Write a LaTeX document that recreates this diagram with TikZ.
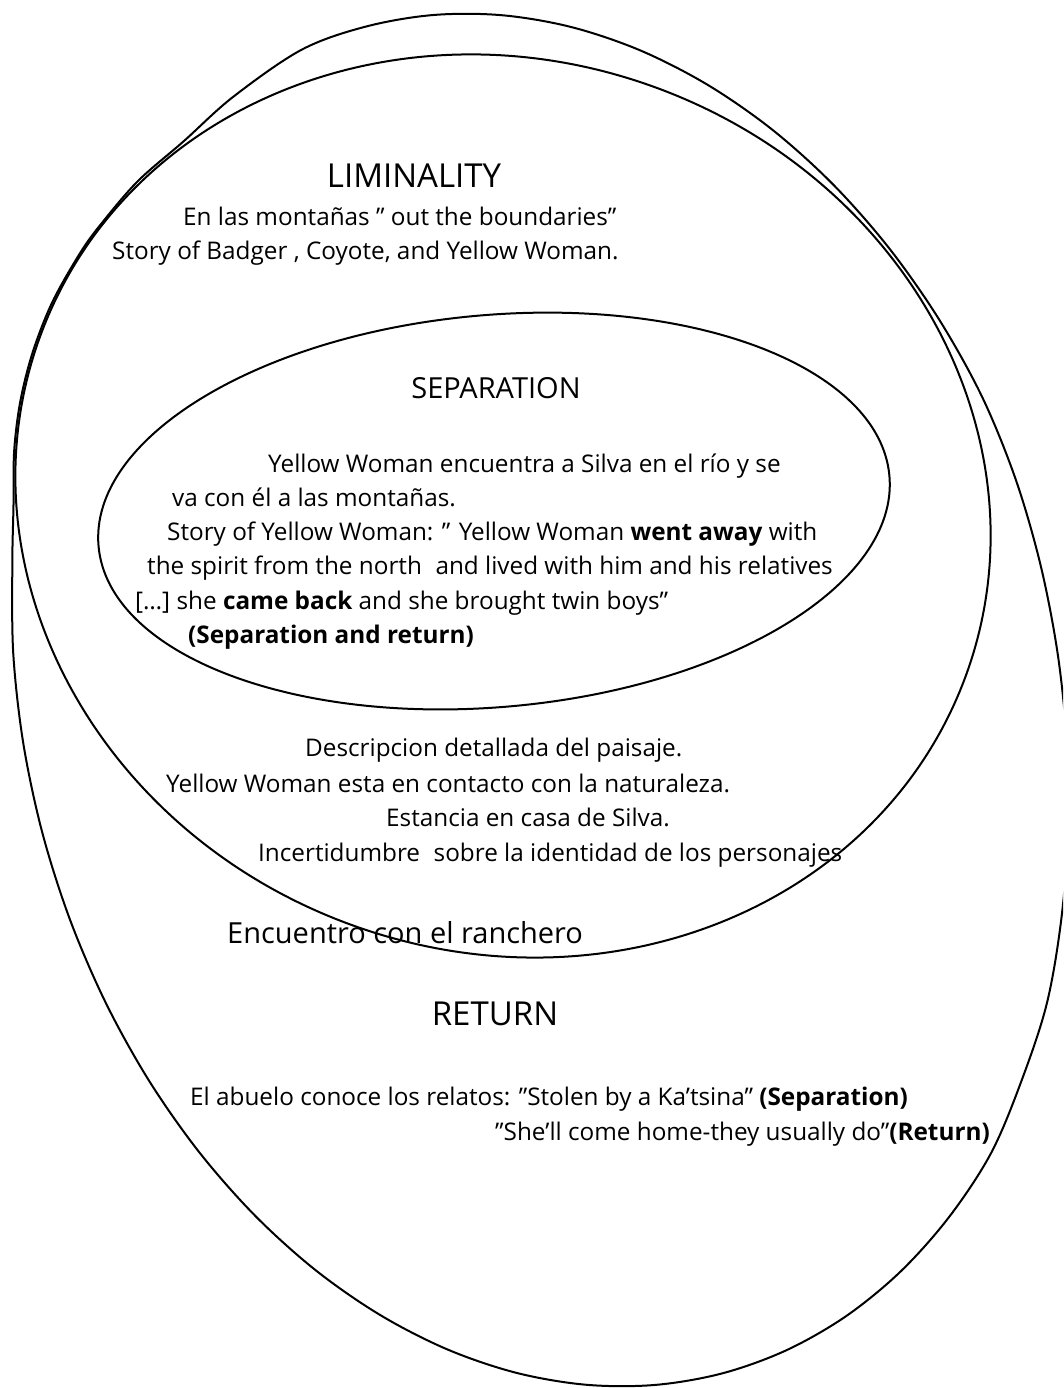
\documentclass[tikz,border=0pt]{standalone}
\usepackage{fontspec}
\setmainfont{Open Sans}
\begin{document}
\begin{tikzpicture}[x=1pt,y=1pt,
  ring/.style={draw=black, line width=2pt, line join=round},
  txt/.style={anchor=base west, inner sep=0pt, font=\fontsize{24.3}{28}\selectfont},
  head/.style={anchor=base, inner sep=0pt, font=\fontsize{33}{38}\selectfont},
  big/.style={anchor=base west, inner sep=0pt, font=\fontsize{29}{34}\selectfont}]
\useasboundingbox (0,0) rectangle (1063,1388);
\fill[white] (0,0) rectangle (1063,1388);
\clip (0,0) rectangle (1063,1388);
% centres of the two inner ellipses
\coordinate (cL) at (503,882);
\coordinate (cS) at (494,877);
% RETURN (outer outline)
\draw[ring] plot[smooth cycle, tension=0.55] coordinates {
  (233,1291) (301.5,1338.2) (365.5,1361.3) (432.5,1372.9) (501.4,1372.8)
  (571,1361) (640.2,1337.6) (707.7,1303.1) (772.4,1258.2) (833.2,1203.4)
  (889.1,1139.8) (939.1,1068.5) (982.3,990.7) (1016,907.7) (1041,821)
  (1058,732) (1067,642.2) (1068,553.2) (1061,466.5) (1046.6,383.6)
  (1021,305.9) (991,234.8) (949.4,171.4) (900.9,116.8) (846.3,72)
  (786.5,37.8) (722.5,14.7) (655.5,3.1) (586.6,3.2) (517,15)
  (447.8,38.4) (380.3,72.9) (315.6,117.8) (254.8,172.6) (198.9,236.2)
  (148.9,307.5) (105.7,385.3) (70,468.3) (42.4,555) (23.4,644)
  (13.3,733.8) (12.3,822.8) (13.5,883) (14.2,937.4) (20.4,987)
  (32.8,1036) (52.4,1086) (80.4,1135.4) (101.9,1165) (138,1207)
  (184,1247)};
% LIMINALITY
\draw[ring, rotate around={-20.3:(cL)}] (cL) ellipse [x radius=493, y radius=445.5];
% SEPARATION
\draw[ring, rotate around={5.1:(cS)}] (cS) ellipse [x radius=397, y radius=196];
% LIMINALITY texts
\node[head] (limT) at (414,1200) {LIMINALITY};
\node[txt] (lim1) at (183,1162) {En las montañas ” out the boundaries”};
\node[txt] (lim2) at (112,1128) {Story of Badger , Coyote, and Yellow Woman.};
% SEPARATION texts
\node[head, font=\fontsize{29}{34}\selectfont] (sepT) at (496,989) {SEPARATION};
\node[txt] (sep1) at (268,915) {Yellow Woman encuentra a Silva en el río y se};
\node[txt] (sep2) at (172,881) {va con él a las montañas.};
\node[txt] (sep3) at (167,847) {Story of Yellow Woman: ” Yellow Woman \textbf{went away} with};
\node[txt] (sep4) at (147,813) {the spirit from the north\hspace{0.3em} and lived with him and his relatives};
\node[txt] (sep5) at (135,778) {[…] she \textbf{came back} and she brought twin boys”};
\node[txt] (sep6) at (188,744) {\textbf{(Separation and return)}};
% liminality, lower part
\node[txt] (lim3) at (305,631) {Descripcion detallada del paisaje.};
\node[txt] (lim4) at (166,595) {Yellow Woman esta en contacto con la naturaleza.};
\node[txt] (lim5) at (386,561) {Estancia en casa de Silva.};
\node[txt] (lim6) at (258,526) {Incertidumbre\hspace{0.3em} sobre la identidad de los personajes};
\node[big] (ranch) at (227,444) {Encuentro con el ranchero};
% RETURN texts
\node[head] (retT) at (495,362) {RETURN};
\node[txt] (ret1) at (190,282) {El abuelo conoce los relatos: ”Stolen by a Ka’tsina” \textbf{(Separation)}};
\node[txt] (ret2) at (495,247) {”She’ll come home-they usually do”\textbf{(Return)}};
\end{tikzpicture}
\end{document}
